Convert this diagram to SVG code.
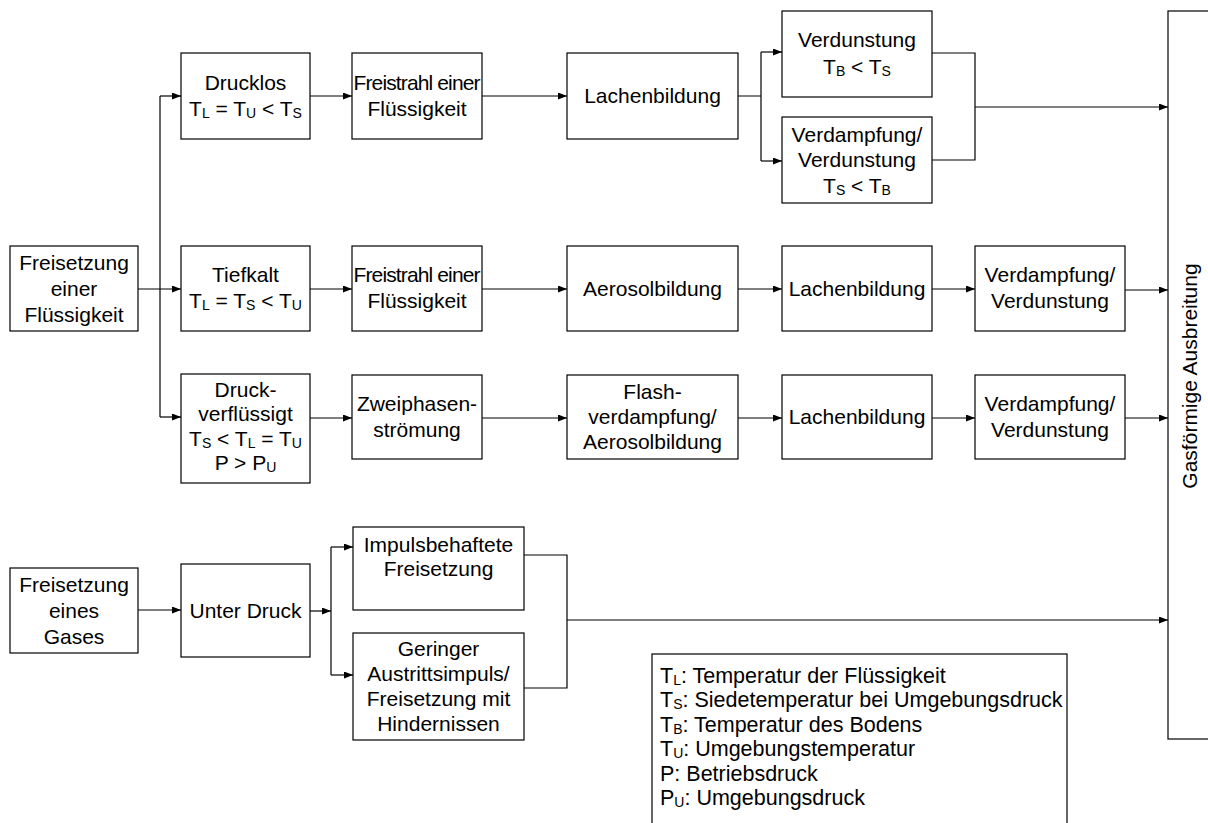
<svg xmlns="http://www.w3.org/2000/svg" width="1208" height="823" viewBox="0 0 1208 823">
<style>
.b{fill:#fff;stroke:#000;stroke-width:1.2}
.t{font-family:"Liberation Sans",Arial,sans-serif;font-size:21px;fill:#000;text-anchor:middle}
.l{font-family:"Liberation Sans",Arial,sans-serif;font-size:21.5px;fill:#000}
.s{font-size:14px}
.c{fill:none;stroke:#000;stroke-width:1.2}
</style>
<defs>
<marker id="ah" markerUnits="userSpaceOnUse" markerWidth="10" markerHeight="8" refX="9" refY="3.5" orient="auto">
<path d="M0,0 L9,3.5 L0,7 z" fill="#000"/>
</marker>
</defs>
<rect width="1208" height="823" fill="#fff"/>
<g id="connectors">
<path class="c" d="M138,289 H181" marker-end="url(#ah)"/>
<path class="c" d="M160,96 V417"/>
<path class="c" d="M160,96 H181" marker-end="url(#ah)"/>
<path class="c" d="M160,417 H181" marker-end="url(#ah)"/>
<path class="c" d="M310,96 H352" marker-end="url(#ah)"/>
<path class="c" d="M482,96 H567" marker-end="url(#ah)"/>
<path class="c" d="M738,96 H761 M761,52 V161"/>
<path class="c" d="M761,52 H782" marker-end="url(#ah)"/>
<path class="c" d="M761,161 H782" marker-end="url(#ah)"/>
<path class="c" d="M932,53 H975 V160 H932"/>
<path class="c" d="M975,107 H1168" marker-end="url(#ah)"/>
<path class="c" d="M310,289 H352" marker-end="url(#ah)"/>
<path class="c" d="M482,289 H567" marker-end="url(#ah)"/>
<path class="c" d="M738,289 H782" marker-end="url(#ah)"/>
<path class="c" d="M932,289 H975" marker-end="url(#ah)"/>
<path class="c" d="M1125,290 H1168" marker-end="url(#ah)"/>
<path class="c" d="M310,418 H352" marker-end="url(#ah)"/>
<path class="c" d="M482,418 H567" marker-end="url(#ah)"/>
<path class="c" d="M738,418 H782" marker-end="url(#ah)"/>
<path class="c" d="M932,418 H975" marker-end="url(#ah)"/>
<path class="c" d="M1125,418 H1168" marker-end="url(#ah)"/>
<path class="c" d="M138,610 H181" marker-end="url(#ah)"/>
<path class="c" d="M310,611 H331" marker-end="url(#ah)"/>
<path class="c" d="M331,547 V675"/>
<path class="c" d="M331,547 H353" marker-end="url(#ah)"/>
<path class="c" d="M331,675 H353" marker-end="url(#ah)"/>
<path class="c" d="M524,555 H567 V688 H524"/>
<path class="c" d="M567,620 H1168" marker-end="url(#ah)"/>
</g>
<g id="n_fluessig"><rect class="b" x="10" y="246" width="128" height="85"/>
<text class="t" x="74" y="270">Freisetzung</text><text class="t" x="74" y="296">einer</text><text class="t" x="74" y="322">Flüssigkeit</text></g>
<g id="n_drucklos"><rect class="b" x="181" y="53" width="129" height="86"/>
<text class="t" x="245.5" y="90">Drucklos</text>
<text class="t" x="245.5" y="116">T<tspan class="s" dy="2">L</tspan><tspan dy="-2"> = T</tspan><tspan class="s" dy="2">U</tspan><tspan dy="-2"> &lt; T</tspan><tspan class="s" dy="2">S</tspan></text></g>
<g id="n_freistrahl1"><rect class="b" x="352" y="53" width="130" height="86"/>
<text class="t" x="417" y="90" textLength="127" lengthAdjust="spacing">Freistrahl einer</text><text class="t" x="417" y="116">Flüssigkeit</text></g>
<g id="n_lachen1"><rect class="b" x="567" y="53" width="171" height="86"/>
<text class="t" x="652.5" y="103">Lachenbildung</text></g>
<g id="n_verdunst"><rect class="b" x="782" y="11" width="150" height="86"/>
<text class="t" x="857" y="47">Verdunstung</text>
<text class="t" x="857" y="74">T<tspan class="s" dy="2">B</tspan><tspan dy="-2"> &lt; T</tspan><tspan class="s" dy="2">S</tspan></text></g>
<g id="n_verdampf1"><rect class="b" x="782" y="117" width="150" height="86"/>
<text class="t" x="857" y="142">Verdampfung/</text><text class="t" x="857" y="167">Verdunstung</text>
<text class="t" x="857" y="193">T<tspan class="s" dy="2">S</tspan><tspan dy="-2"> &lt; T</tspan><tspan class="s" dy="2">B</tspan></text></g>
<g id="n_tiefkalt"><rect class="b" x="181" y="246" width="129" height="85"/>
<text class="t" x="245.5" y="282">Tiefkalt</text>
<text class="t" x="245.5" y="308">T<tspan class="s" dy="2">L</tspan><tspan dy="-2"> = T</tspan><tspan class="s" dy="2">S</tspan><tspan dy="-2"> &lt; T</tspan><tspan class="s" dy="2">U</tspan></text></g>
<g id="n_freistrahl2"><rect class="b" x="352" y="246" width="130" height="85"/>
<text class="t" x="417" y="282" textLength="127" lengthAdjust="spacing">Freistrahl einer</text><text class="t" x="417" y="308">Flüssigkeit</text></g>
<g id="n_aerosol"><rect class="b" x="567" y="246" width="171" height="85"/>
<text class="t" x="652.5" y="296">Aerosolbildung</text></g>
<g id="n_lachen2"><rect class="b" x="782" y="246" width="150" height="85"/>
<text class="t" x="857" y="296">Lachenbildung</text></g>
<g id="n_verdampf2"><rect class="b" x="975" y="246" width="150" height="85"/>
<text class="t" x="1050" y="282">Verdampfung/</text><text class="t" x="1050" y="308">Verdunstung</text></g>
<g id="n_druckverf"><rect class="b" x="181" y="374" width="129" height="109"/>
<text class="t" x="245.5" y="397">Druck-</text><text class="t" x="245.5" y="421">verflüssigt</text>
<text class="t" x="245.5" y="446">T<tspan class="s" dy="2">S</tspan><tspan dy="-2"> &lt; T</tspan><tspan class="s" dy="2">L</tspan><tspan dy="-2"> = T</tspan><tspan class="s" dy="2">U</tspan></text>
<text class="t" x="245.5" y="470">P &gt; P<tspan class="s" dy="2">U</tspan></text></g>
<g id="n_zweiphasen"><rect class="b" x="352" y="375" width="130" height="84"/>
<text class="t" x="417" y="411">Zweiphasen-</text><text class="t" x="417" y="437">strömung</text></g>
<g id="n_flash"><rect class="b" x="567" y="375" width="171" height="84"/>
<text class="t" x="652.5" y="399">Flash-</text><text class="t" x="652.5" y="424">verdampfung/</text><text class="t" x="652.5" y="449">Aerosolbildung</text></g>
<g id="n_lachen3"><rect class="b" x="782" y="375" width="150" height="84"/>
<text class="t" x="857" y="424">Lachenbildung</text></g>
<g id="n_verdampf3"><rect class="b" x="975" y="375" width="150" height="84"/>
<text class="t" x="1050" y="411">Verdampfung/</text><text class="t" x="1050" y="437">Verdunstung</text></g>
<g id="n_gas"><rect class="b" x="10" y="568" width="128" height="85"/>
<text class="t" x="74" y="592">Freisetzung</text><text class="t" x="74" y="618">eines</text><text class="t" x="74" y="644">Gases</text></g>
<g id="n_unterdruck"><rect class="b" x="181" y="564" width="129" height="93"/>
<text class="t" x="245.5" y="618">Unter Druck</text></g>
<g id="n_impuls"><rect class="b" x="353" y="527" width="171" height="83"/>
<text class="t" x="438.5" y="552">Impulsbehaftete</text><text class="t" x="438.5" y="576">Freisetzung</text></g>
<g id="n_gering"><rect class="b" x="353" y="633" width="171" height="107"/>
<text class="t" x="438.5" y="656">Geringer</text><text class="t" x="438.5" y="681">Austrittsimpuls/</text><text class="t" x="438.5" y="706">Freisetzung mit</text><text class="t" x="438.5" y="731">Hindernissen</text></g>
<g id="n_gasfoermig"><rect class="b" x="1168" y="11" width="60" height="728"/>
<text class="t" transform="translate(1197,376) rotate(-90)" x="0" y="0">Gasförmige Ausbreitung</text></g>
<g id="legend"><rect class="b" x="652" y="654" width="415" height="200"/>
<text class="l" x="660" y="683">T<tspan class="s" dy="2">L</tspan><tspan dy="-2">: Temperatur der Flüssigkeit</tspan></text>
<text class="l" x="660" y="707">T<tspan class="s" dy="2">S</tspan><tspan dy="-2">: Siedetemperatur bei Umgebungsdruck</tspan></text>
<text class="l" x="660" y="732">T<tspan class="s" dy="2">B</tspan><tspan dy="-2">: Temperatur des Bodens</tspan></text>
<text class="l" x="660" y="756">T<tspan class="s" dy="2">U</tspan><tspan dy="-2">: Umgebungstemperatur</tspan></text>
<text class="l" x="660" y="781">P: Betriebsdruck</text>
<text class="l" x="660" y="805">P<tspan class="s" dy="2">U</tspan><tspan dy="-2">: Umgebungsdruck</tspan></text></g>
</svg>
